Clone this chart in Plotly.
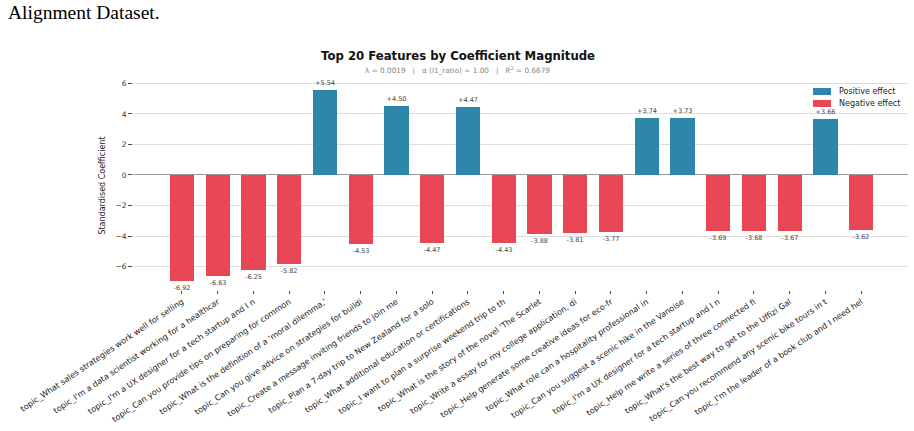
import plotly.graph_objects as go

# ---------------- data ----------------
features = [
    "topic_What sales strategies work well for selling",
    "topic_I'm a data scientist working for a healthcar",
    "topic_I'm a UX designer for a tech startup and I n",
    "topic_Can you provide tips on preparing for common",
    "topic_What is the definition of a 'moral dilemma,'",
    "topic_Can you give advice on strategies for buildi",
    "topic_Create a message inviting friends to join me",
    "topic_Plan a 7-day trip to New Zealand for a solo",
    "topic_What additional education or certifications",
    "topic_I want to plan a surprise weekend trip to th",
    "topic_What is the story of the novel 'The Scarlet",
    "topic_Write a essay for my college application, di",
    "topic_Help generate some creative ideas for eco-fr",
    "topic_What role can a hospitality professional in",
    "topic_Can you suggest a scenic hike in the Vanoise",
    "topic_I'm a UX designer for a tech startup and I n",
    "topic_Help me write a series of three connected fi",
    "topic_What's the best way to get to the Uffizi Gal",
    "topic_Can you recommend any scenic bike tours in t",
    "topic_I'm the leader of a book club and I need hel",
]
coefficients = [-6.92, -6.63, -6.25, -5.82, 5.54, -4.53, 4.50, -4.47, 4.47, -4.43,
                -3.88, -3.81, -3.77, 3.74, 3.73, -3.69, -3.68, -3.67, 3.66, -3.62]
lambda_val = 0.0019
l1_ratio = 1.00
r_squared = 0.6679
title_text = "Top 20 Features by Coefficient Magnitude"
y_title = "Standardised Coefficient"
legend_labels = ["Positive effect", "Negative effect"]
caption_text = "Alignment Dataset."

POS_COLOR = "#2E86AB"
NEG_COLOR = "#E84855"
FONT = "DejaVu Sans"

positions = list(range(len(features)))
colors = [POS_COLOR if v > 0 else NEG_COLOR for v in coefficients]
bar_text = [f"{v:+.2f}" for v in coefficients]

W, H = 914, 431
ML, MR, MT, MB = 133, 6, 81, 141
PW = W - ML - MR
PH = H - MT - MB


def px_x(x):
    return (x - ML) / PW


def px_y(y):
    return (H - MB - y) / PH


fig = go.Figure()
fig.add_trace(go.Bar(
    x=positions,
    y=coefficients,
    width=0.68,
    marker=dict(color=colors, line=dict(width=0)),
    text=bar_text,
    textposition="outside",
    textfont=dict(family=FONT, size=6.5, color="#444444"),
    constraintext="none",
    cliponaxis=False,
    showlegend=False,
    hoverinfo="x+y",
))

nb = "\u00a0"
subtitle = (f"λ = {lambda_val:.4f}{nb*3}|{nb*3}α (l1_ratio) = {l1_ratio:.2f}"
            f"{nb*3}|{nb*3}<i>R</i><sup>2</sup> = {r_squared:.4f}")

annotations = [
    dict(text=f"<b>{title_text}</b>", x=px_x(458), y=px_y(56), xref="paper", yref="paper",
         showarrow=False, xanchor="center", yanchor="middle",
         font=dict(family=FONT, size=11.7, color="#111111")),
    dict(text=subtitle, x=px_x(457), y=px_y(70), xref="paper", yref="paper",
         showarrow=False, xanchor="center", yanchor="middle",
         font=dict(family=FONT, size=7.3, color="#888888")),
    dict(text=caption_text, x=px_x(6), y=px_y(0), xref="paper", yref="paper",
         showarrow=False, xanchor="left", yanchor="top",
         font=dict(family="Liberation Serif", size=19.5, color="#000000")),
]

shapes = []
leg_colors = [POS_COLOR, NEG_COLOR]
leg_y = [91.5, 103.5]
for lab, col, yc in zip(legend_labels, leg_colors, leg_y):
    shapes.append(dict(type="rect", xref="paper", yref="paper",
                       x0=px_x(813), x1=px_x(831), y0=px_y(yc - 3.5), y1=px_y(yc + 3.5),
                       fillcolor=col, line=dict(width=0)))
    annotations.append(dict(text=lab, x=px_x(837), y=px_y(yc), xref="paper", yref="paper",
                            showarrow=False, xanchor="left", yanchor="middle",
                            font=dict(family=FONT, size=8, color="#222222")))

fig.update_layout(
    width=W, height=H,
    margin=dict(l=ML, r=MR, t=MT, b=MB, pad=0),
    paper_bgcolor="white", plot_bgcolor="white",
    font=dict(family=FONT, color="#333333"),
    bargap=0,
    annotations=annotations,
    shapes=shapes,
    xaxis=dict(
        tickmode="array", tickvals=positions, ticktext=features,
        tickangle=-34, range=[-1.37, 20.31],
        showgrid=False, zeroline=False, showline=False,
        ticks="outside", ticklen=3, tickwidth=0.8, tickcolor="#444444",
        tickfont=dict(family=FONT, size=8.1, color="#222222"),
        automargin=False,
    ),
    yaxis=dict(
        range=[-7.54, 6.16], tick0=0, dtick=2,
        showgrid=True, gridcolor="#dddddd", gridwidth=1,
        zeroline=True, zerolinecolor="#999999", zerolinewidth=1.2,
        showline=False,
        ticks="outside", ticklen=4, tickwidth=0.8, tickcolor="#444444",
        tickfont=dict(family=FONT, size=7.5, color="#333333"),
        title=dict(text=y_title, font=dict(family=FONT, size=8, color="#222222"), standoff=8),
        automargin=False,
    ),
)

fig.write_html("out.html")
